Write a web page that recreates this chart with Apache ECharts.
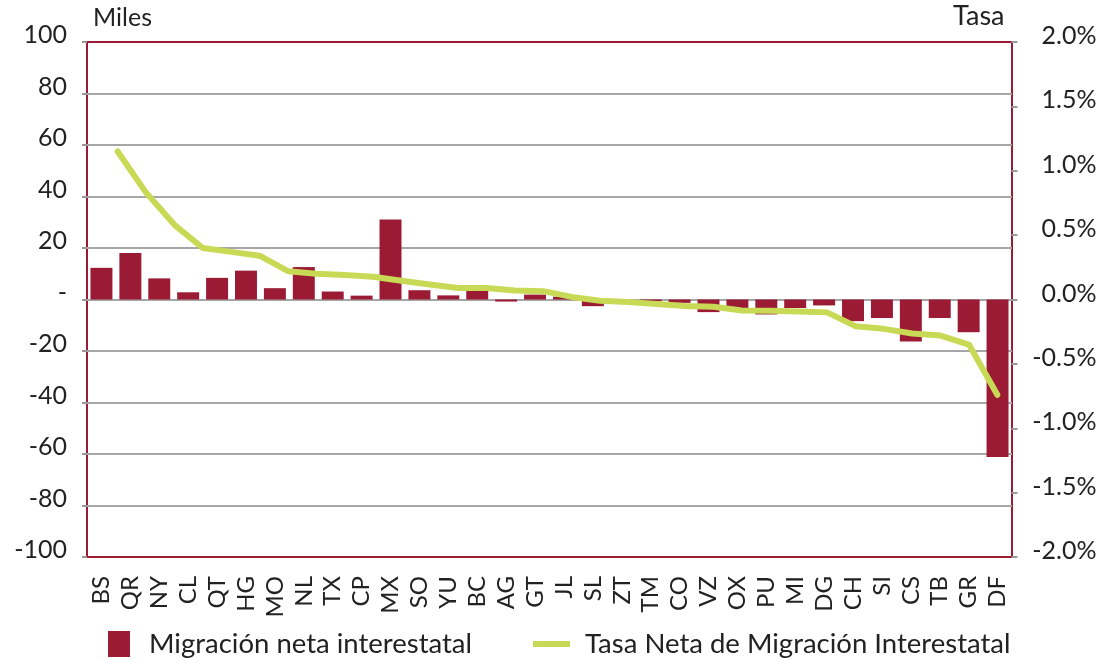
<!DOCTYPE html>
<html>
<head>
<meta charset="utf-8">
<script src="https://cdn.jsdelivr.net/npm/echarts@6/dist/echarts.min.js"></script>
<style>
  html, body { margin: 0; padding: 0; background: #fff; }
  #main { width: 1101px; height: 661px; }
</style>
</head>
<body>
<div id="main"></div>
<script>
// entidades
var estados = ['BS','QR','NY','CL','QT','HG','MO','NL','TX','CP','MX','SO','YU','BC','AG','GT',
  'JL','SL','ZT','TM','CO','VZ','OX','PU','MI','DG','CH','SI','CS','TB','GR','DF'];

// Migración neta interestatal (miles)
var migracionNeta = [12.3, 18.1, 8.2, 2.8, 8.4, 11.2, 4.4, 12.6, 3.1, 1.5, 31.1, 3.6, 1.6, 3.4, -0.8, 1.9,
  1.1, -2.6, -0.5, -0.7, -1.3, -4.9, -3.3, -5.8, -3.3, -2.3, -8.4, -7.2, -16.3, -7.2, -12.7, -61.2];

// Tasa neta de migración interestatal (%)
var tasaNeta = [1.15, 0.83, 0.58, 0.40, 0.37, 0.34, 0.22, 0.20, 0.19, 0.176, 0.145, 0.116, 0.09, 0.09, 0.07, 0.065,
  0.02, -0.01, -0.02, -0.035, -0.05, -0.057, -0.085, -0.088, -0.093, -0.1, -0.207, -0.228, -0.264, -0.28, -0.35, -0.74];

var rojo = '#9B1B34';
var verde = '#C8DA55';
var gris = '#a6a6a6';
var fuente = 'Lato';

// lineas de division: la primera y la ultima forman parte del marco rojo
var coloresDivision = [rojo, gris, gris, gris, gris, gris, gris, gris, gris, gris, rojo];

// etiqueta un poco por encima de su linea (segunda linea vacia)
function arriba(txt) { return '{a|' + txt + '}\n{b|}'; }

var myChart = echarts.init(document.getElementById('main'));

var option = {
  animation: false,
  textStyle: { fontFamily: fuente },
  grid: [
    { left: 87, right: 89, top: 42, bottom: 104, show: true, borderColor: rojo, borderWidth: 2 },
    { left: 103.5, right: 89.5, top: 42, bottom: 104 }
  ],
  legend: [
    {
      left: 103, top: 625,
      itemWidth: 22, itemHeight: 26,
      data: [{ name: 'Migración neta interestatal', icon: 'rect' }],
      textStyle: { fontSize: 27.5, color: '#222', fontFamily: fuente, padding: [0, 0, 0, 14] }
    },
    {
      left: 528, top: 625,
      itemWidth: 37, itemHeight: 6,
      data: [{ name: 'Tasa Neta de Migración Interestatal', icon: 'rect' }],
      textStyle: { fontSize: 27.5, color: '#222', fontFamily: fuente, padding: [0, 0, 0, 10] }
    }
  ],
  xAxis: [
    {
      type: 'category', gridIndex: 0, data: estados,
      axisLine: { show: false }, axisTick: { show: false },
      axisLabel: { rotate: 90, fontSize: 24, color: '#222', margin: 19, interval: 0 }
    },
    {
      type: 'category', gridIndex: 1, data: estados, show: false
    }
  ],
  yAxis: [
    {
      type: 'value', gridIndex: 0, min: -100, max: 100, interval: 20,
      name: 'Miles', nameLocation: 'end', nameGap: 12,
      nameTextStyle: { align: 'left', fontSize: 25, color: '#222', padding: [0, 0, 0, 6] },
      axisLine: { show: false },
      axisTick: { show: true, length: 5, lineStyle: { color: '#999', width: 2 } },
      axisLabel: {
        margin: 20,
        formatter: function (v) { return arriba(v === 0 ? '-' : String(v)); },
        rich: {
          a: { fontSize: 25, color: '#222', lineHeight: 30, fontFamily: fuente },
          b: { lineHeight: 14, fontSize: 1 }
        }
      },
      splitLine: { lineStyle: { color: coloresDivision, width: 2 } }
    },
    {
      type: 'value', gridIndex: 1, position: 'right', min: -2, max: 2, interval: 0.5,
      name: 'Tasa', nameLocation: 'end', nameGap: 12,
      nameTextStyle: { align: 'right', fontSize: 27, color: '#222', padding: [0, 7, 0, 0] },
      axisLine: { show: false },
      axisTick: { show: true, length: 6, lineStyle: { color: '#999', width: 2 } },
      axisLabel: {
        margin: 85, align: 'right',
        formatter: function (v) { return arriba(v.toFixed(1) + '%'); },
        rich: {
          a: { fontSize: 25, color: '#222', lineHeight: 30, fontFamily: fuente, align: 'right' },
          b: { lineHeight: 12, fontSize: 1 }
        }
      },
      splitLine: { show: false }
    }
  ],
  series: [
    {
      name: 'Migración neta interestatal', type: 'bar',
      xAxisIndex: 0, yAxisIndex: 0,
      data: migracionNeta,
      barCategoryGap: '24%',
      itemStyle: { color: rojo },
      z: 2
    },
    {
      name: 'Tasa Neta de Migración Interestatal', type: 'line',
      xAxisIndex: 1, yAxisIndex: 1,
      data: tasaNeta,
      symbol: 'none',
      lineStyle: { color: verde, width: 6, cap: 'round', join: 'round' },
      itemStyle: { color: verde },
      z: 3
    }
  ]
};

myChart.setOption(option);
</script>
</body>
</html>
